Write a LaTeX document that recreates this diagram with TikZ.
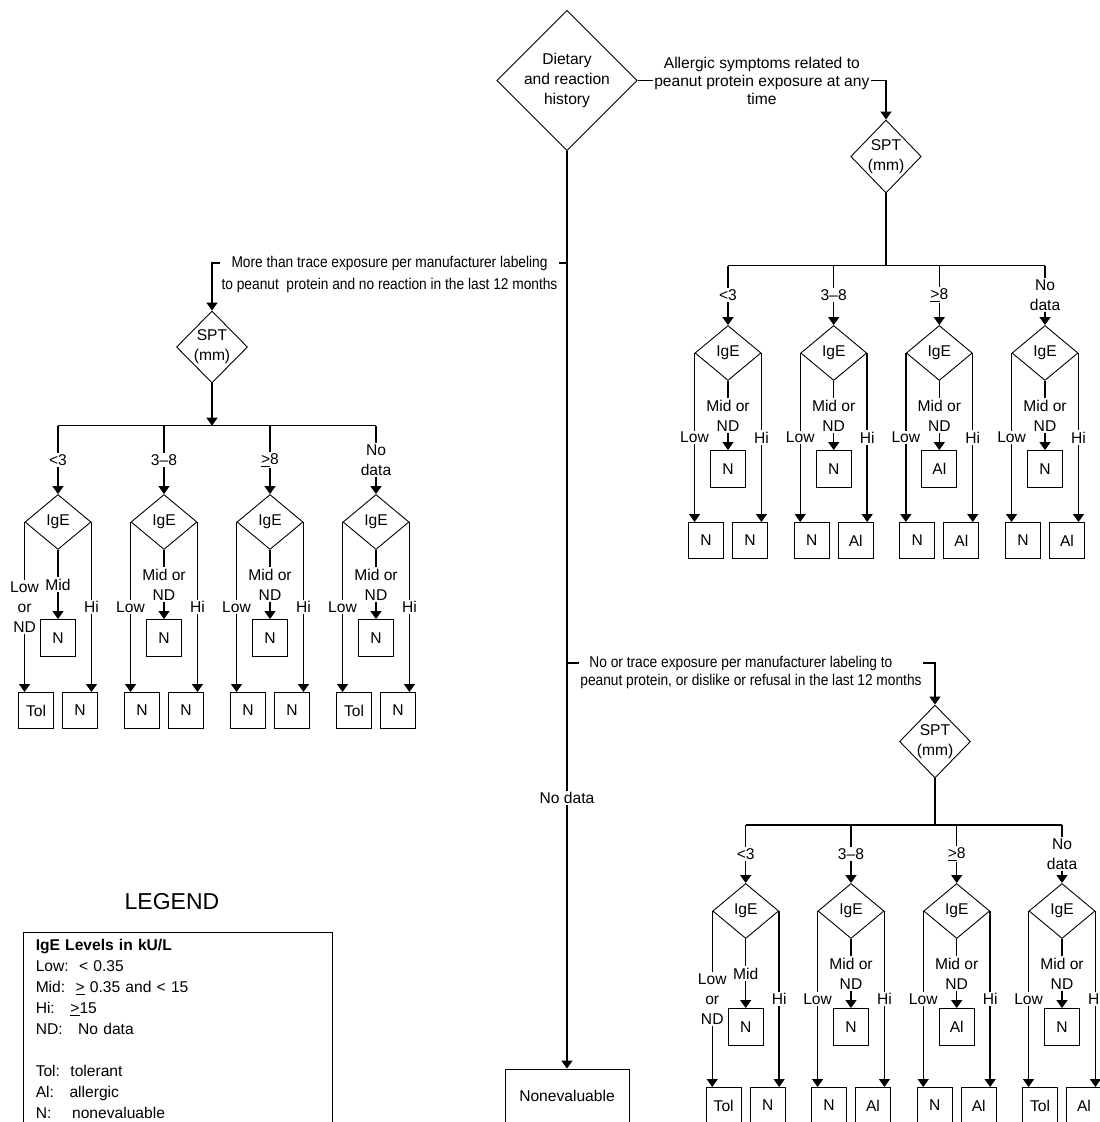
\documentclass[tikz,border=0pt]{standalone}
\usepackage{fontspec}
\setmainfont{Liberation Sans}
\newfontfamily\narrowsans{Liberation Sans}[FakeStretch=0.88]
\usetikzlibrary{arrows.meta,shapes.geometric}

\begin{document}
\begin{tikzpicture}[x=1pt,y=-1pt,
font=\fontsize{15.6pt}{20pt}\selectfont,
decision/.style={diamond,draw,line width=0.9pt,inner sep=0pt,align=center},
outcome/.style={rectangle,draw,line width=0.9pt,minimum width=35pt,minimum height=36pt,inner sep=0pt},
lbl/.style={fill=white,inner sep=1.5pt,align=center},
link/.style={line width=1.4pt},
arrow/.style={-{Triangle[length=8pt,width=11pt]},line width=1.4pt}]
\useasboundingbox (0,0) rectangle (1100,1122);
\clip (0,0) rectangle (1100,1122);

% history and the three SPT decisions
\node[decision,minimum width=139pt,minimum height=133pt] (diet) at (567,80.5) {Dietary\\and reaction\\history};
\node[decision,minimum width=67pt,minimum height=73pt] (spta) at (886,156.5) {SPT\\(mm)};
\node[decision,minimum width=71pt,minimum height=72pt] (sptl) at (212,347) {SPT\\(mm)};
\node[decision,minimum width=71pt,minimum height=73pt] (sptb) at (935,741.5) {SPT\\(mm)};
\node[outcome,minimum width=124pt,minimum height=54pt] (noneval) at (567,1096) {Nonevaluable};
\coordinate (jl) at (567,263);
\coordinate (jb) at (567,663);

\draw[arrow] (diet) -- node[lbl,pos=0.705] {No data} (noneval);
\draw[arrow] (diet.east) -- node[lbl,font=\fontsize{15.6pt}{18pt}\selectfont] {Allergic symptoms related to\\peanut protein exposure at any\\time} (diet.east -| spta.north) -- (spta.north);
\draw[arrow] (jl) -- node[lbl,yshift=-11pt,font=\fontsize{15.6pt}{22pt}\narrowsans] {More than trace exposure per manufacturer labeling\\to peanut\ \ protein and no reaction in the last 12 months} (jl -| sptl.north) -- (sptl.north);
\draw[arrow] (jb) -- node[lbl,yshift=-9pt,align=left,font=\fontsize{15.6pt}{18pt}\narrowsans] {\hspace*{9pt}No or trace exposure per manufacturer labeling to\\peanut protein, or dislike or refusal in the last 12 months} (jb -| sptb.north) -- (sptb.north);

% IgE sub-trees
\foreach \nm/\x/\yb/\yi/\yo/\rng/\lo/\md/\lt/\mt/\rt in {
  l1/58/425.7/522/692/{<3}/{Low\\or\\ND}/Mid/Tol/N/N,
  l2/164/425.7/522/692/3--8/Low/{Mid or\\ND}/N/N/N,
  l3/270/425.7/522/692/{\underline{>}8}/Low/{Mid or\\ND}/N/N/N,
  l4/376/425.7/522/692/{No\\data}/Low/{Mid or\\ND}/Tol/N/N,
  a1/728/265.7/353/522/{<3}/Low/{Mid or\\ND}/N/N/N,
  a2/833.7/265.7/353/522/3--8/Low/{Mid or\\ND}/N/N/Al,
  a3/939.3/265.7/353/522/{\underline{>}8}/Low/{Mid or\\ND}/N/Al/Al,
  a4/1045/265.7/353/522/{No\\data}/Low/{Mid or\\ND}/N/N/Al,
  b1/745.7/825/911/1087/{<3}/{Low\\or\\ND}/Mid/Tol/N/N,
  b2/851/825/911/1087/3--8/Low/{Mid or\\ND}/N/N/Al,
  b3/956.7/825/911/1087/{\underline{>}8}/Low/{Mid or\\ND}/N/Al/Al,
  b4/1062/825/911/1087/{No\\data}/Low/{Mid or\\ND}/Tol/N/Al}{
  \coordinate (top\nm) at (\x,\yb);
  \node[decision,minimum width=66pt,minimum height=55pt] (ige\nm) at (\x,\yi) {IgE};
  \node[outcome,minimum height=37pt] (mid\nm) at (\x,\yi+116) {\mt};
  \node[outcome,anchor=north] (low\nm) at (\x-22,\yo) {\lt};
  \node[outcome,anchor=north] (high\nm) at (\x+22,\yo) {\rt};
  \draw[arrow] (top\nm) -- node[lbl] {\rng} (ige\nm.north);
  \draw[arrow] (ige\nm.south) -- node[lbl] {\md} (mid\nm.north);
  \draw[arrow] (ige\nm.west) -- node[lbl] {\lo} (ige\nm.west |- low\nm.north);
  \draw[arrow] (ige\nm.east) -- node[lbl] {Hi} (ige\nm.east |- high\nm.north);
}

% bars under the SPT decisions
\draw[link] (topl1) -- (topl4);
\draw[link] (topa1) -- (topa4);
\draw[link] (topb1) -- (topb4);
\draw[arrow] (sptl) -- (sptl.south |- topl1);
\draw[link] (spta) -- (spta.south |- topa1);
\draw[link] (sptb) -- (sptb.south |- topb1);

% legend
\node[font=\fontsize{23pt}{26pt}\selectfont] (legtitle) at (172,902) {LEGEND};
\node[draw,line width=0.9pt,anchor=north west,text width=285pt,align=left,inner xsep=12pt,inner ysep=7.5pt,font=\fontsize{15.6pt}{21pt}\selectfont] (legend) at (23.3,931.7) {\textbf{IgE Levels in kU/L}\\Low:\ \ < 0.35\\Mid:\ \ \underline{>} 0.35 and < 15\\Hi:\ \ \ \underline{>}15\\ND:\ \ \ No data\\[21pt]Tol:\ \ tolerant\\Al:\ \ \ allergic\\N:\ \ \ \ nonevaluable};
\end{tikzpicture}
\end{document}
